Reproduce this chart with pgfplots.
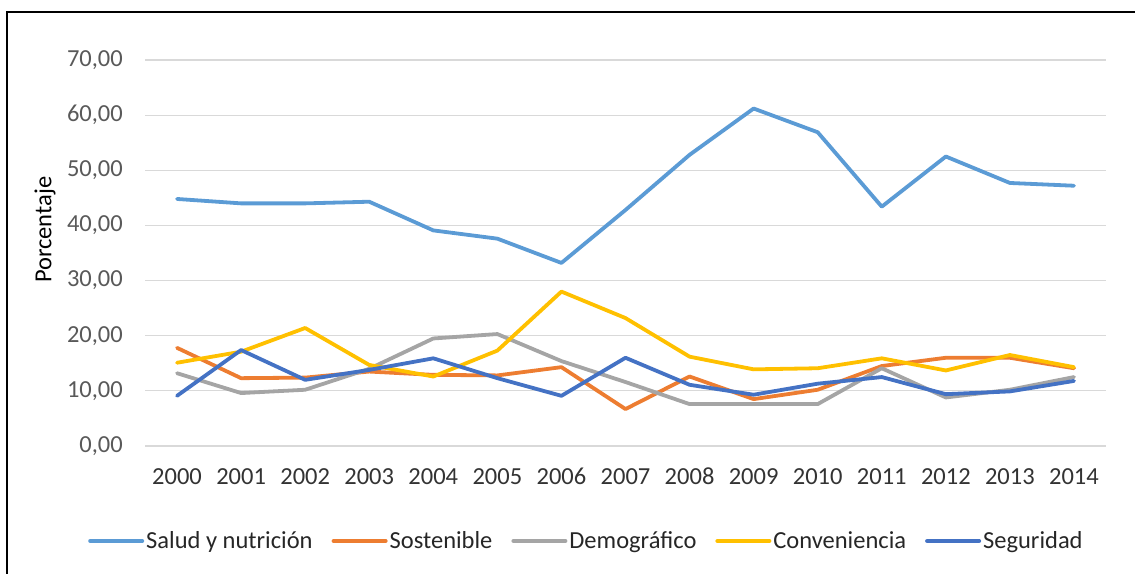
\documentclass[border=0pt]{standalone}
\usepackage{pgfplots}
\pgfplotsset{compat=1.18}
\usepackage{fontspec}
\setmainfont{Carlito}

\definecolor{salud}{HTML}{5B9BD5}
\definecolor{sostenible}{HTML}{ED7D31}
\definecolor{demografico}{HTML}{A5A5A5}
\definecolor{conveniencia}{HTML}{FFC000}
\definecolor{seguridad}{HTML}{4472C4}
\definecolor{gridgray}{HTML}{D9D9D9}
\definecolor{ticktext}{HTML}{595959}

\newcommand{\cf}{\fontsize{24.5bp}{29bp}\selectfont}

\begin{document}
\begin{tikzpicture}
\clip (0bp,0bp) rectangle (1135bp,574bp);
% chart frame
\draw[line width=1.6bp, black] (7bp,-20bp) -- (7bp,562bp) -- (1160bp,562bp);
\begin{axis}[
  at={(145bp,128bp)}, anchor=south west,
  scale only axis, width=961bp, height=386bp,
  xmin=-0.5, xmax=14.5, ymin=0, ymax=70,
  xtick={0,...,14},
  xticklabels={2000,2001,2002,2003,2004,2005,2006,2007,2008,2009,2010,2011,2012,2013,2014},
  ytick={0,10,...,70},
  yticklabels={{0,00},{10,00},{20,00},{30,00},{40,00},{50,00},{60,00},{70,00}},
  major tick length=0pt,
  axis line style={draw=none},
  ymajorgrids, grid style={gridgray, line width=1.1bp},
  xticklabel style={font=\cf, text=black!80, anchor=base, inner sep=0pt, yshift=-39bp},
  yticklabel style={font=\cf, text=ticktext, anchor=east, inner sep=0pt, xshift=-22bp},
  ylabel={Porcentaje},
  ylabel style={font=\cf, text=black, at={(axis description cs:-0.104,0.56)}, anchor=center, rotate=0},
  legend columns=5,
  legend style={draw=none, fill=none, inner sep=0pt, font=\cf, text=black!85,
    at={(-0.0593,-0.246)}, anchor=west,
    /tikz/every even column/.append style={column sep=17bp},
    nodes={inner xsep=2bp}},
  legend image code/.code={\draw[#1, line width=4bp, line cap=round] (0bp,0bp) -- (52bp,0bp);},
  every axis plot/.append style={line width=3.8bp, line join=round, line cap=round, mark=none},
]
\addplot[salud] coordinates {
  (0,44.8) (1,44.0) (2,44.0) (3,44.3) (4,39.1) (5,37.6) (6,33.2) (7,42.8)
  (8,52.8) (9,61.2) (10,56.9) (11,43.4) (12,52.5) (13,47.7) (14,47.2)};
\addlegendentry{Salud y nutrición}
\addplot[sostenible] coordinates {
  (0,17.8) (1,12.3) (2,12.4) (3,13.5) (4,12.9) (5,12.8) (6,14.3) (7,6.7)
  (8,12.6) (9,8.5) (10,10.2) (11,14.5) (12,16.0) (13,16.0) (14,14.1)};
\addlegendentry{Sostenible}
\addplot[demografico] coordinates {
  (0,13.2) (1,9.6) (2,10.2) (3,14.0) (4,19.5) (5,20.3) (6,15.4) (7,11.6)
  (8,7.6) (9,7.6) (10,7.6) (11,14.1) (12,8.8) (13,10.2) (14,12.5)};
\addlegendentry{Demográfico}
\addplot[conveniencia] coordinates {
  (0,15.1) (1,17.1) (2,21.4) (3,14.7) (4,12.6) (5,17.3) (6,28.0) (7,23.2)
  (8,16.2) (9,13.9) (10,14.1) (11,15.9) (12,13.7) (13,16.5) (14,14.3)};
\addlegendentry{Conveniencia}
\addplot[seguridad] coordinates {
  (0,9.1) (1,17.4) (2,12.0) (3,13.8) (4,15.9) (5,12.3) (6,9.1) (7,16.0)
  (8,11.1) (9,9.3) (10,11.3) (11,12.5) (12,9.4) (13,9.9) (14,11.8)};
\addlegendentry{Seguridad}
\end{axis}
\end{tikzpicture}
\end{document}
